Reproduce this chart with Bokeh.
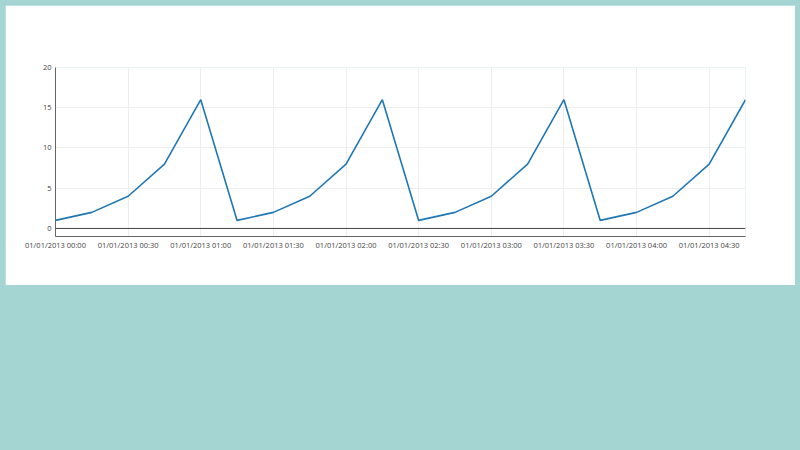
from datetime import datetime

from bokeh.plotting import figure
from bokeh.models import (ColumnDataSource, Range1d, Span, FixedTicker,
                          DatetimeTickFormatter, GlobalInlineStyleSheet)
from bokeh.embed import file_html
from bokeh.resources import INLINE

# =========================
# DATA
# =========================
times = [
    "2013-01-01 00:00", "2013-01-01 00:15", "2013-01-01 00:30", "2013-01-01 00:45",
    "2013-01-01 01:00", "2013-01-01 01:15", "2013-01-01 01:30", "2013-01-01 01:45",
    "2013-01-01 02:00", "2013-01-01 02:15", "2013-01-01 02:30", "2013-01-01 02:45",
    "2013-01-01 03:00", "2013-01-01 03:15", "2013-01-01 03:30", "2013-01-01 03:45",
    "2013-01-01 04:00", "2013-01-01 04:15", "2013-01-01 04:30", "2013-01-01 04:45",
]
values = [1, 2, 4, 8, 16, 1, 2, 4, 8, 16, 1, 2, 4, 8, 16, 1, 2, 4, 8, 16]
tick_times = times[::2]
y_ticks = [0, 5, 10, 15, 20]

x = [datetime.strptime(t, "%Y-%m-%d %H:%M") for t in times]
x_ticks = [datetime.strptime(t, "%Y-%m-%d %H:%M").timestamp() * 1000 for t in tick_times]

source = ColumnDataSource(data=dict(x=x, y=values))

# =========================
# FIGURE
# =========================
p = figure(
    width=790, height=280,
    x_axis_type="datetime",
    x_range=Range1d(x[0], x[-1]),
    y_range=Range1d(-1, 20),
    output_backend="svg",
    toolbar_location=None,
    min_border_left=50, min_border_right=50,
    min_border_top=62, min_border_bottom=49,
)
p.stylesheets = [GlobalInlineStyleSheet(css="body { background: #a5d5d2; margin: 5px; }")]
p.background_fill_color = "white"
p.border_fill_color = "white"
p.outline_line_color = None

p.line("x", "y", source=source, line_color="#1f77b4", line_width=1.6)

# zero line
p.add_layout(Span(location=0, dimension="width", line_color="#444444", line_width=1))

# axes
p.xaxis.ticker = FixedTicker(ticks=x_ticks)
p.xaxis.formatter = DatetimeTickFormatter(
    minutes="%m/%d/%Y %H:%M", hours="%m/%d/%Y %H:%M",
    hourmin="%m/%d/%Y %H:%M", days="%m/%d/%Y %H:%M",
)
p.yaxis.ticker = FixedTicker(ticks=y_ticks)

for ax in (p.xaxis, p.yaxis):
    ax.axis_line_color = "#666666"
    ax.axis_line_width = 1
    ax.major_tick_out = 0
    ax.major_tick_in = 0
    ax.minor_tick_out = 0
    ax.minor_tick_in = 0
    ax.major_label_text_font = "Open Sans"
    ax.major_label_text_font_size = "7.5px"
    ax.major_label_text_color = "#444444"
p.xaxis.major_label_standoff = 3
p.yaxis.major_label_standoff = 4

p.grid.grid_line_color = "#eeeeee"
p.grid.grid_line_width = 1

open("out.html", "w").write(file_html(p, INLINE))
